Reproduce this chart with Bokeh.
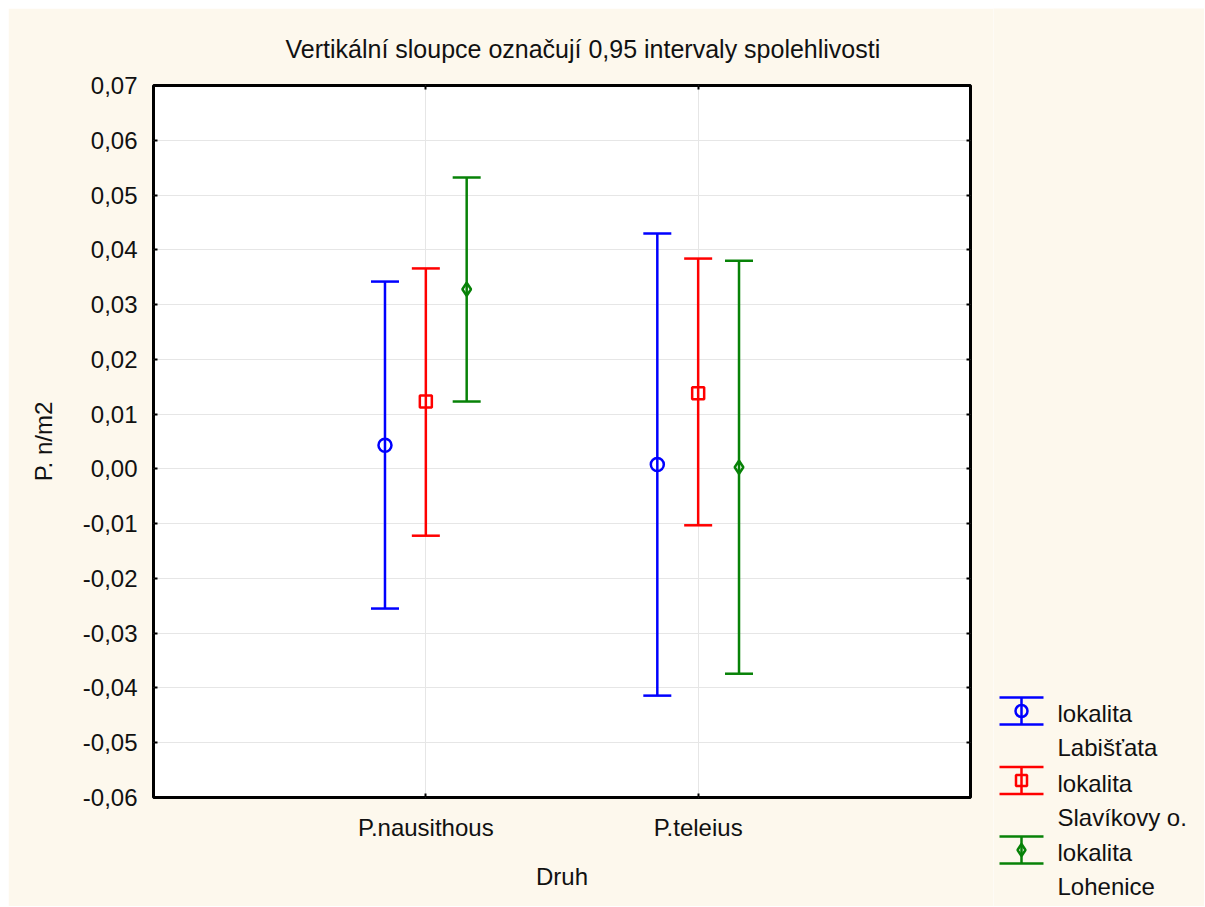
from bokeh.plotting import figure
from bokeh.models import (Range1d, FixedTicker, CustomJSTickFormatter, LinearAxis,
                          Whisker, TeeHead, ColumnDataSource, Title)
from bokeh.layouts import row
from bokeh.core.properties import value
from bokeh.embed import file_html
from bokeh.resources import INLINE

# ---------------- data ----------------
species = ["P.nausithous", "P.teleius"]
localities = ["Labišťata", "Slavíkovy o.", "Lohenice"]
legend_prefix = "lokalita"

mean_labistata = [0.0043, 0.0008]
low_labistata = [-0.0255, -0.0414]
high_labistata = [0.0342, 0.0430]

mean_slavikovy = [0.0123, 0.0138]
low_slavikovy = [-0.0122, -0.0103]
high_slavikovy = [0.0366, 0.0384]

mean_lohenice = [0.0328, 0.0003]
low_lohenice = [0.0123, -0.0374]
high_lohenice = [0.0532, 0.0380]

y_ticks = [-0.06, -0.05, -0.04, -0.03, -0.02, -0.01, 0.0, 0.01, 0.02, 0.03, 0.04, 0.05, 0.06, 0.07]

title_text = "Vertikální sloupce označují 0,95 intervaly spolehlivosti"
x_label = "Druh"
y_label = "P. n/m2"

# ---------------- style ----------------
FONT = "Liberation Sans"
CREAM = "#fdf8ed"
TXT = "#111111"
colors = ["#0000ff", "#ff0000", "#078207"]
markers = ["circle", "square", "diamond"]
msizes = [13, 12, 13]
offsets = [-0.15, 0.0, 0.15]

series = [
    (mean_labistata, low_labistata, high_labistata),
    (mean_slavikovy, low_slavikovy, high_slavikovy),
    (mean_lohenice, low_lohenice, high_lohenice),
]

W, H = 1196, 898
MAIN_W = 985

p = figure(width=MAIN_W, height=H, output_backend="svg", toolbar_location=None,
           x_range=Range1d(0, len(species) + 1), y_range=Range1d(y_ticks[0], y_ticks[-1]),
           min_border_left=145, min_border_right=23, min_border_top=77, min_border_bottom=H - 789,
           background_fill_color="white", border_fill_color=CREAM)

p.outline_line_color = "black"
p.outline_line_width = 3

cat_pos = [i + 1 for i in range(len(species))]
fmt = CustomJSTickFormatter(code="return tick.toFixed(2).replace('.', ',').replace('-0,00','0,00');")

# bottom axis
xa = p.xaxis[0]
xa.ticker = FixedTicker(ticks=cat_pos)
xa.major_label_overrides = {c: s for c, s in zip(cat_pos, species)}
xa.axis_label = x_label
# left axis
ya = p.yaxis[0]
ya.ticker = FixedTicker(ticks=y_ticks)
ya.formatter = fmt
ya.axis_label = y_label

for ax in (xa, ya):
    ax.axis_line_color = None
    ax.major_tick_in = 4
    ax.major_tick_out = 0
    ax.major_tick_line_width = 2
    ax.major_tick_line_color = "black"
    ax.minor_tick_line_color = None
    ax.major_label_text_font = FONT
    ax.major_label_text_font_size = "24px"
    ax.major_label_text_color = TXT
    ax.axis_label_text_font = FONT
    ax.axis_label_text_font_size = "24px"
    ax.axis_label_text_font_style = "normal"
    ax.axis_label_text_color = TXT
xa.major_label_standoff = 16
xa.axis_label_standoff = 19
ya.major_label_standoff = 16
ya.axis_label_standoff = 23

# top and right tick-only axes
top = LinearAxis(ticker=FixedTicker(ticks=cat_pos), major_label_text_font_size="0px",
                 major_label_standoff=0, major_tick_in=4, major_tick_out=0,
                 major_tick_line_width=2, minor_tick_line_color=None, axis_line_color=None)
top.major_label_overrides = {c: "" for c in cat_pos}
right = LinearAxis(ticker=FixedTicker(ticks=y_ticks), major_label_text_font_size="0px",
                   major_label_standoff=0, major_tick_in=4, major_tick_out=0,
                   major_tick_line_width=2, minor_tick_line_color=None, axis_line_color=None)
right.formatter = CustomJSTickFormatter(code="return '';")
p.add_layout(top, "above")
p.add_layout(right, "right")

p.add_layout(Title(text=title_text, align="left", offset=132, text_font=FONT,
                   text_font_size="25px", text_font_style="normal", text_color=TXT,
                   standoff=45), "above")

# grid
p.xgrid.ticker = FixedTicker(ticks=cat_pos)
p.ygrid.ticker = FixedTicker(ticks=y_ticks)
p.grid.grid_line_color = "#e6e6e6"
p.grid.grid_line_width = 1

# error bars
for (m, lo, hi), col, mk, ms, off in zip(series, colors, markers, msizes, offsets):
    src = ColumnDataSource(dict(x=[c + off for c in cat_pos], mean=m, lo=lo, hi=hi))
    w = Whisker(source=src, base="x", upper="hi", lower="lo", dimension="height",
                line_color=col, line_width=2.5,
                upper_head=TeeHead(size=28, line_color=col, line_width=2.5),
                lower_head=TeeHead(size=28, line_color=col, line_width=2.5))
    p.add_layout(w)
    p.scatter("x", "mean", source=src, marker=mk, size=ms, line_color=col,
              line_width=2.5, fill_color=None)

# ---------------- legend panel ----------------
LW = W - MAIN_W
lg = figure(width=LW, height=H, output_backend="svg", toolbar_location=None,
            x_range=Range1d(0, LW), y_range=Range1d(H, 0), min_border=0,
            x_axis_type=None, y_axis_type=None,
            background_fill_color=CREAM, border_fill_color=CREAM, outline_line_color=None)
lg.grid.visible = False
lg.frame_align = False
p.frame_align = False

step = 69.5
y0 = 702.5
gx, ghw, gcap = 28, 22, 13.5
tx = 64
for i, (loc, col, mk, ms) in enumerate(zip(localities, colors, markers, msizes)):
    cy = y0 + step * i
    lg.segment(x0=[gx, gx - ghw, gx - ghw], y0=[cy - gcap, cy - gcap, cy + gcap],
               x1=[gx, gx + ghw, gx + ghw], y1=[cy + gcap, cy - gcap, cy + gcap],
               line_color=col, line_width=2.5)
    lg.scatter(x=[gx], y=[cy], marker=mk, size=ms - 1, line_color=col, line_width=2.5,
               fill_color=None)
    lg.text(x=[tx, tx], y=[cy + 2.5, cy + 36.5], text=[legend_prefix, loc],
            text_font=value(FONT), text_font_size="24px", text_color=TXT,
            text_align="left", text_baseline="middle")

layout = row(p, lg, margin=(8, 0, 0, 8))
open("out.html", "w").write(file_html(layout, INLINE))
